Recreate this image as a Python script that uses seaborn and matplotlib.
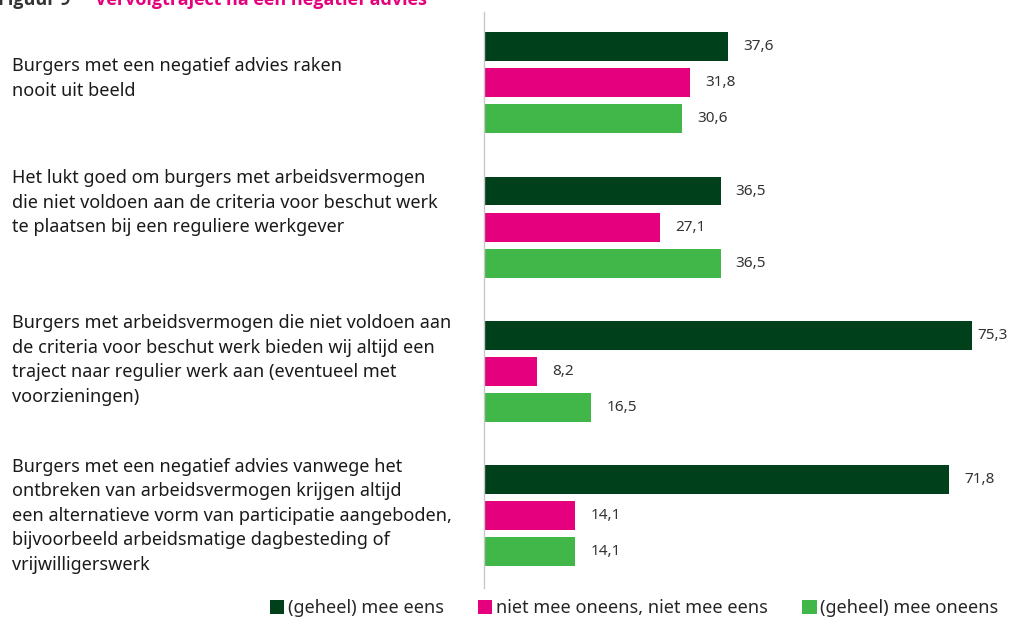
import pandas as pd
import matplotlib.pyplot as plt
import matplotlib.transforms as mtransforms
import seaborn as sns

# ---- data ----
stellingen = [
    'Burgers met een negatief advies raken\nnooit uit beeld',
    'Het lukt goed om burgers met arbeidsvermogen\ndie niet voldoen aan de criteria voor beschut werk\nte plaatsen bij een reguliere werkgever',
    'Burgers met arbeidsvermogen die niet voldoen aan\nde criteria voor beschut werk bieden wij altijd een\ntraject naar regulier werk aan (eventueel met\nvoorzieningen)',
    'Burgers met een negatief advies vanwege het\nontbreken van arbeidsvermogen krijgen altijd\neen alternatieve vorm van participatie aangeboden,\nbijvoorbeeld arbeidsmatige dagbesteding of\nvrijwilligerswerk',
]
oordelen = ['(geheel) mee eens', 'niet mee oneens, niet mee eens', '(geheel) mee oneens']
mee_eens = [37.6, 36.5, 75.3, 71.8]
neutraal = [31.8, 27.1, 8.2, 14.1]
mee_oneens = [30.6, 36.5, 16.5, 14.1]
kleuren = ['#00401A', '#E5007D', '#41B649']

df = pd.DataFrame({
    'stelling': list(range(4)) * 3,
    'oordeel': [o for o in oordelen for _ in range(4)],
    'pct': mee_eens + neutraal + mee_oneens,
})

# ---- plot ----
sns.set_style('white')
plt.rcParams['font.family'] = ['Noto Sans', 'DejaVu Sans']

fig = plt.figure(figsize=(10.12, 6.19), dpi=100)
ax = fig.add_axes([484 / 1012, 1 - 588 / 619, 80 * 6.48 / 1012, (588 - 12) / 619])

sns.barplot(data=df, y='stelling', x='pct', hue='oordeel', orient='h',
            palette=dict(zip(oordelen, kleuren)), hue_order=oordelen,
            width=0.75, gap=0.2, linewidth=0, saturation=1, ax=ax)

ax.set_xlim(0, 80)
ax.set_ylim(3.5, -0.49)
ax.set_xlabel('')
ax.set_ylabel('')
ax.set_xticks([])
ax.set_yticks([])
for s in ['top', 'right', 'bottom']:
    ax.spines[s].set_visible(False)
ax.spines['left'].set_color('#c8c8c8')
ax.spines['left'].set_linewidth(1)

# waarden naast de balken (lange balk: label dichter tegen de balk)
for cont in ax.containers:
    anns = ax.bar_label(cont, labels=[f'{b.get_width():.1f}'.replace('.', ',') for b in cont],
                        padding=11, fontsize=11, color='#333333')
    for b, a in zip(cont, anns):
        if b.get_width() > 74:
            a.xyann = (4, 0)

# stellingen links
offsets = [-0.03, -0.17, -0.08, 0.0]
trans = mtransforms.blended_transform_factory(fig.transFigure, ax.transData)
for i, (tekst, off) in enumerate(zip(stellingen, offsets)):
    ax.text(12 / 1012, i + off, tekst, transform=trans, ha='left', va='center',
            fontsize=13, color='#1a1a1a', linespacing=1.47)

# legenda onder
handles, labels = ax.get_legend_handles_labels()
ax.get_legend().remove()
fig.legend(handles, labels, loc='center', ncol=3, frameon=False,
           bbox_to_anchor=(634 / 1012, 1 - 608 / 619), fontsize=13,
           handlelength=0.8, handleheight=0.8, handletextpad=0.2, columnspacing=1.9)

# titel (valt gedeeltelijk buiten beeld, zoals in het origineel)
fig.text(-2 / 1012, 1 - 5 / 619, 'Figuur 9', fontsize=13, fontweight='bold',
         family=['Open Sans', 'DejaVu Sans'], color='#333333', va='baseline', ha='left')
fig.text(95 / 1012, 1 - 5 / 619, 'Vervolgtraject na een negatief advies', fontsize=13,
         fontweight='bold', family=['Open Sans', 'DejaVu Sans'], color='#E5007D',
         va='baseline', ha='left')

fig.savefig('out.png', dpi=100)
